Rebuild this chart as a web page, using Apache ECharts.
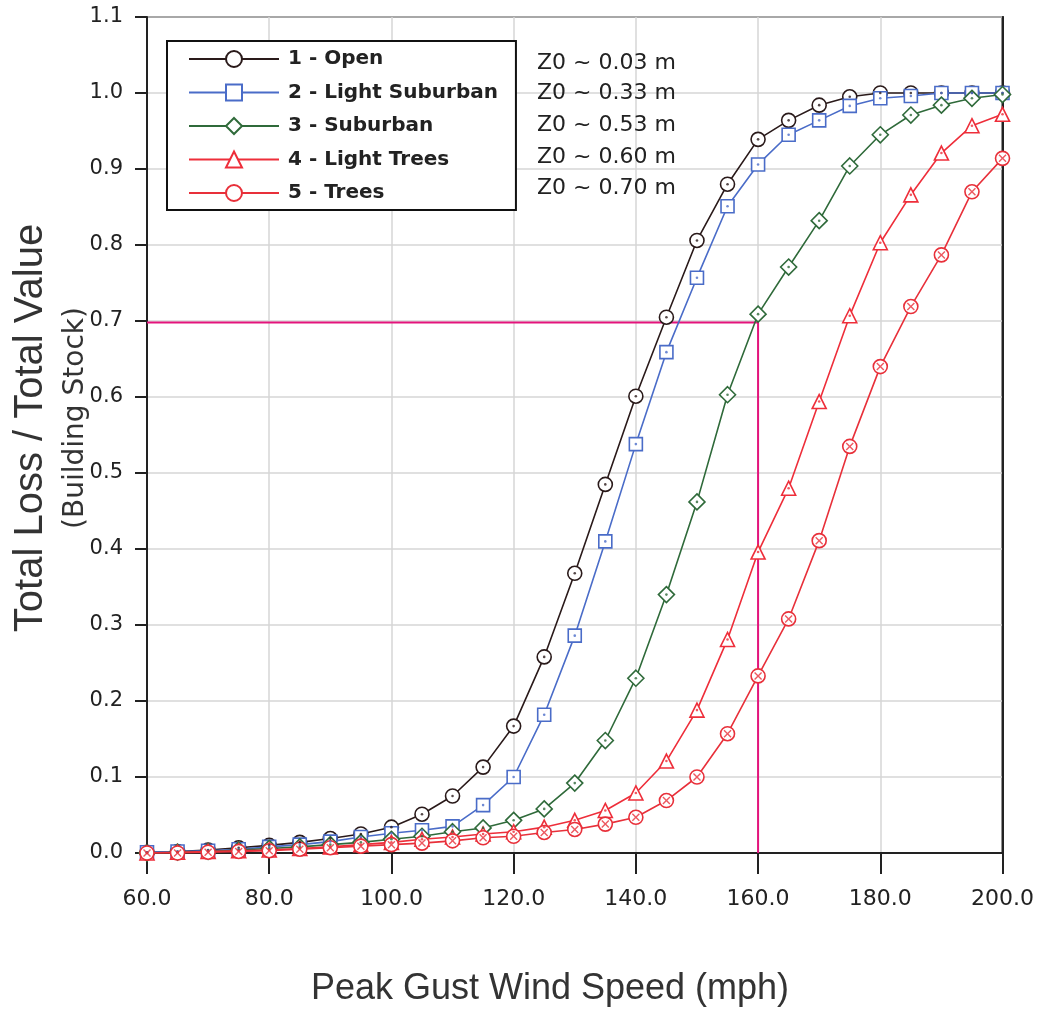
<!DOCTYPE html>
<html>
<head>
<meta charset="utf-8">
<script src="https://cdn.jsdelivr.net/npm/echarts@6/dist/echarts.min.js"></script>
<style>html,body{margin:0;padding:0;background:#fff}#c{width:1037px;height:1017px}</style>
</head>
<body>
<div id="c"></div>
<script>
const speeds = [60,65,70,75,80,85,90,95,100,105,110,115,120,125,130,135,140,145,150,155,160,165,170,175,180,185,190,195,200];
const seriesNames = ['1 - Open','2 - Light Suburban','3 - Suburban','4 - Light Trees','5 - Trees'];
const roughness = ['Z0 ~ 0.03 m','Z0 ~ 0.33 m','Z0 ~ 0.53 m','Z0 ~ 0.60 m','Z0 ~ 0.70 m'];
const openVals = [0.001,0.002,0.004,0.007,0.010,0.014,0.019,0.025,0.034,0.051,0.075,0.113,0.167,0.258,0.368,0.485,0.601,0.705,0.806,0.880,0.939,0.964,0.984,0.995,1.0,1.0,1.0,1.0,1.0];
const lightSuburbanVals = [0.001,0.002,0.003,0.005,0.008,0.011,0.015,0.021,0.026,0.030,0.035,0.063,0.100,0.182,0.286,0.410,0.538,0.659,0.757,0.851,0.906,0.945,0.964,0.983,0.993,0.996,1.0,1.0,1.0];
const suburbanVals = [0.0,0.001,0.002,0.004,0.006,0.008,0.011,0.014,0.018,0.022,0.028,0.033,0.043,0.058,0.092,0.148,0.230,0.340,0.462,0.603,0.709,0.771,0.832,0.904,0.945,0.971,0.984,0.993,0.998];
const lightTreesVals = [0.0,0.001,0.002,0.003,0.004,0.006,0.008,0.011,0.014,0.018,0.021,0.025,0.028,0.034,0.043,0.056,0.079,0.121,0.188,0.281,0.396,0.480,0.594,0.707,0.803,0.866,0.921,0.957,0.972];
const treesVals = [0.0,0.0,0.001,0.002,0.003,0.005,0.007,0.009,0.011,0.013,0.016,0.020,0.022,0.027,0.031,0.038,0.047,0.069,0.100,0.157,0.233,0.308,0.411,0.535,0.640,0.719,0.787,0.870,0.914];
const refLineX = [60,160,160];
const refLineY = [0.698,0.698,0];
const xTicks = {min:60,max:200,interval:20};
const yTicks = {min:0,max:1.1,interval:0.1};

const allVals = [openVals,lightSuburbanVals,suburbanVals,lightTreesVals,treesVals];
const colors = ['#2a1a1a','#4a6cc8','#2f6a3a','#ee2e3a','#e8303a'];
const symbols = ['circle','rect','diamond','triangle','circle'];
const sizes = [14,13,16,14,14];
const crossPath = 'path://M-4,-3 L-3,-4 L0,-1 L3,-4 L4,-3 L1,0 L4,3 L3,4 L0,1 L-3,4 L-4,3 L-1,0 Z';
const z0Y = [63,93,125,157,188];

const pairs = v => speeds.map((s,i)=>[s,v[i]]);
const series = [];
allVals.forEach((v,k)=>{
  series.push({
    name: seriesNames[k], type:'line', data: pairs(v),
    symbol: symbols[k], symbolSize: sizes[k], showAllSymbol:true,
    lineStyle:{color:colors[k], width:1.6},
    itemStyle:{color:'#fff', borderColor:colors[k], borderWidth:1.6},
    z: 3+k, animation:false
  });
});
allVals.forEach((v,k)=>{
  series.push({
    name: 'inner'+k, type:'scatter', data: pairs(v), silent:true,
    symbol: k===4 ? crossPath : 'circle', symbolSize: k===4 ? 8 : 2.6,
    itemStyle:{color:colors[k]}, z: 10, animation:false
  });
});
series.push({
  name:'ref', type:'line', data: refLineX.map((x,i)=>[x,refLineY[i]]),
  symbol:'none', lineStyle:{color:'#e4147c', width:2}, z:2, animation:false, silent:true
});

const borderAxis = {axisLine:{show:true,lineStyle:{color:'#222',width:2}},axisTick:{show:false},axisLabel:{show:false},splitLine:{show:false}};

const chart = echarts.init(document.getElementById('c'));
chart.setOption({
  backgroundColor:'#fff',
  animation:false,
  grid:{left:147,right:34,top:17,bottom:164,show:true,borderColor:'#222',borderWidth:2,backgroundColor:'transparent'},
  xAxis:[{type:'value',min:xTicks.min,max:xTicks.max,interval:xTicks.interval,
    axisLine:{lineStyle:{color:'#222',width:2}},
    axisTick:{length:21,lineStyle:{color:'#222',width:2}},
    axisLabel:{margin:35,fontFamily:'DejaVu Sans',fontSize:22,color:'#222',formatter:v=>v.toFixed(1)},
    splitLine:{show:true,lineStyle:{color:'#d6d6d6',width:1.5}}},
    Object.assign({type:'value',position:'top',min:xTicks.min,max:xTicks.max,interval:xTicks.interval},borderAxis)],
  yAxis:[{type:'value',min:yTicks.min,max:yTicks.max,interval:yTicks.interval,
    axisLine:{show:true,lineStyle:{color:'#222',width:2}},
    axisTick:{show:true,length:12,lineStyle:{color:'#222',width:2}},
    axisLabel:{margin:24,fontFamily:'DejaVu Sans',fontSize:21,color:'#222',formatter:v=>v.toFixed(1)},
    splitLine:{show:true,lineStyle:{color:'#d6d6d6',width:1.5}}},
    Object.assign({type:'value',position:'right',min:yTicks.min,max:yTicks.max,interval:yTicks.interval},borderAxis)],
  legend:{data:seriesNames,orient:'vertical',left:167,top:41,
    backgroundColor:'#fff',borderColor:'#111',borderWidth:2,padding:[8,18,7,21],
    itemWidth:90,itemHeight:20,itemGap:13.5,
    textStyle:{fontFamily:'DejaVu Sans',fontWeight:'bold',fontSize:20,color:'#222',padding:[0,0,0,4]}},
  graphic:[
    ...roughness.map((t,i)=>({type:'text',x:537,y:z0Y[i],z:20,
      style:{text:t,fontFamily:'DejaVu Sans',fontSize:22,fill:'#222',verticalAlign:'middle'}})),
    {type:'text',x:550,y:989,z:20,style:{text:'Peak Gust Wind Speed (mph)',fontFamily:'Liberation Sans',fontSize:36,fill:'#333',align:'center',verticalAlign:'middle'}},
    {type:'text',x:31,y:428,rotation:Math.PI/2,z:20,style:{text:'Total Loss / Total Value',fontFamily:'Liberation Sans',fontSize:40,fill:'#333',align:'center',verticalAlign:'middle'}},
    {type:'text',x:76,y:418,rotation:Math.PI/2,z:20,style:{text:'(Building Stock)',fontFamily:'DejaVu Sans',fontSize:28,fill:'#333',align:'center',verticalAlign:'middle'}}
  ],
  series: series
});
</script>
</body>
</html>
